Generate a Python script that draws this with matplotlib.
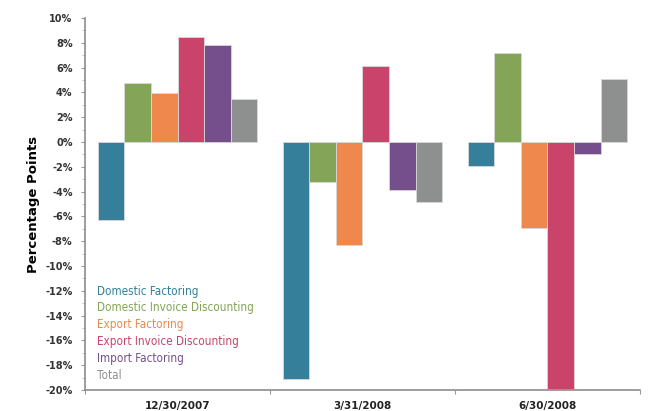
import matplotlib
matplotlib.use("Agg")
import matplotlib.pyplot as plt
import numpy as np
from matplotlib.ticker import MultipleLocator, FuncFormatter
from matplotlib.font_manager import FontProperties

quarters = ["12/30/2007", "3/31/2008", "6/30/2008"]
series_names = [
    "Domestic Factoring",
    "Domestic Invoice Discounting",
    "Export Factoring",
    "Export Invoice Discounting",
    "Import Factoring",
    "Total",
]
domestic_factoring = [-6.3, -19.1, -1.9]
domestic_invoice_discounting = [4.8, -3.2, 7.2]
export_factoring = [3.95, -8.3, -6.9]
export_invoice_discounting = [8.5, 6.1, -19.9]
import_factoring = [7.8, -3.9, -1.0]
total = [3.5, -4.85, 5.1]

series_values = [
    domestic_factoring,
    domestic_invoice_discounting,
    export_factoring,
    export_invoice_discounting,
    import_factoring,
    total,
]
colors = ["#357F9A", "#84A457", "#EE884C", "#C9436A", "#744F8C", "#8E908F"]

fig = plt.figure(figsize=(6.55, 4.11), dpi=100)
ax = fig.add_axes([0.1298, 0.0511, 0.8472, 0.905])

n = len(series_names)
bar_w = 0.144
x = np.arange(len(quarters))
for i, (name, vals, c) in enumerate(zip(series_names, series_values, colors)):
    offs = (i - (n - 1) / 2) * bar_w
    ax.bar(x + offs, vals, width=bar_w, color=c, edgecolor="#d8d8d8",
           linewidth=0.6, label=name, zorder=2)

ax.set_xlim(-0.5, len(quarters) - 0.5)
ax.set_ylim(-20, 10)

ax.yaxis.set_major_locator(MultipleLocator(2))
ax.yaxis.set_minor_locator(MultipleLocator(1))
ax.yaxis.set_major_formatter(FuncFormatter(lambda v, p: f"{int(round(v))}%"))
ax.tick_params(axis="y", which="major", length=3, width=0.8, color="#999999",
               labelsize=7, pad=6, labelcolor="#333333")
ax.tick_params(axis="y", which="minor", length=2, width=0.6, color="#bbbbbb")
for lab in ax.get_yticklabels():
    lab.set_fontweight("bold")

# category labels centered, boundary ticks between groups
ax.set_xticks(x)
ax.set_xticklabels(quarters, fontsize=7.5, fontweight="bold", color="#222222")
ax.set_xticks(np.arange(-0.5, len(quarters), 1.0), minor=True)
ax.tick_params(axis="x", which="major", length=0, pad=8)
ax.tick_params(axis="x", which="minor", length=3, width=0.8, color="#999999")

for side in ["top", "right"]:
    ax.spines[side].set_visible(False)
for side in ["left", "bottom"]:
    ax.spines[side].set_color("#8c8c8c")
    ax.spines[side].set_linewidth(1.2)

ax.set_ylabel("Percentage Points", fontsize=9.5, fontweight="bold")
ax.yaxis.set_label_coords(-0.082, 0.5)

# colored-text key, one line per series
legend_font = FontProperties(family="DejaVu Sans", stretch="condensed", size=8.4)
key_top = 0.266
key_step = 0.0452
for i, (name, c) in enumerate(zip(series_names, colors)):
    ax.text(0.022, key_top - i * key_step, name, color=c,
            fontproperties=legend_font, transform=ax.transAxes,
            ha="left", va="center")

fig.savefig("out.png", dpi=100)
